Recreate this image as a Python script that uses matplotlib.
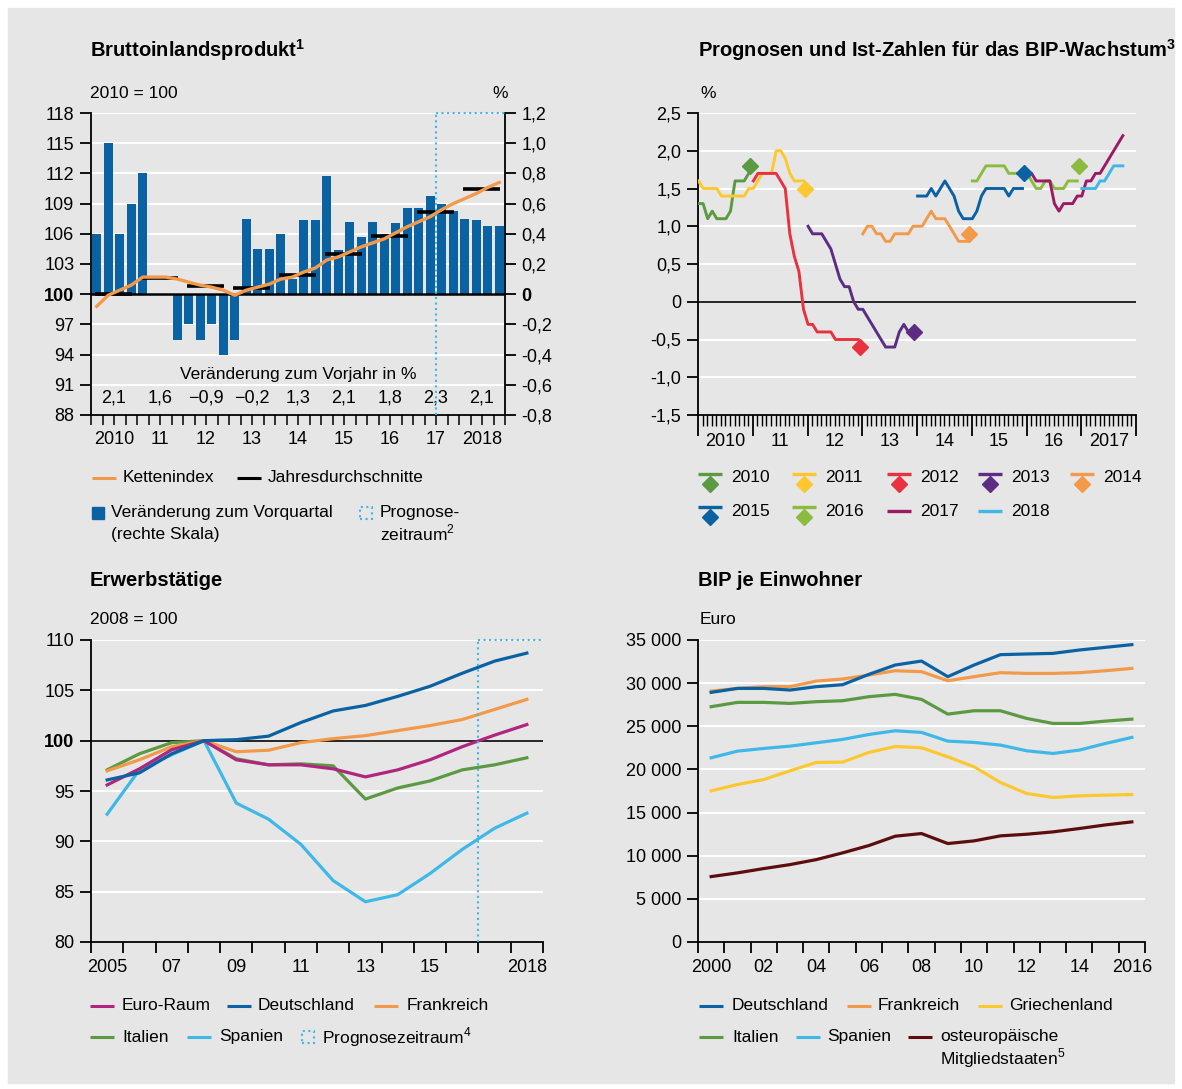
import matplotlib
matplotlib.use('Agg')
import matplotlib.pyplot as plt
import matplotlib.transforms as mtransforms
from matplotlib.lines import Line2D
from matplotlib.patches import Rectangle

W, H = 1182, 1089
BG = '#e6e6e6'
plt.rcParams['font.family'] = ['Liberation Sans', 'DejaVu Sans']
plt.rcParams['font.size'] = 12
plt.rcParams['mathtext.fontset'] = 'custom'
plt.rcParams['mathtext.rm'] = 'Liberation Sans'
plt.rcParams['mathtext.bf'] = 'Liberation Sans:bold'
FS = 12.5        # body text
TFS = 14.5       # titles

BLUE = '#0b62a3'
ORANGE = '#f39a4a'
GREEN = '#5b9a42'
LGREEN = '#8bbb3f'
YELLOW = '#fdc82f'
RED = '#e8323f'
PURPLE = '#5c2d82'
MAGENTA = '#9b1b63'
LBLUE = '#3fb8e8'
EURO = '#b0267e'
BROWN = '#5c0e0e'

# ---- Bruttoinlandsprodukt (quarterly 2010Q1..2018Q4)
gdp_qoq = [0.4, 1.0, 0.4, 0.6,
           0.8, 0.0, 0.0, -0.3,
           -0.2, -0.3, -0.2, -0.4,
           -0.3, 0.5, 0.3, 0.3,
           0.4, 0.1, 0.49, 0.49,
           0.78, 0.29, 0.48, 0.38,
           0.48, 0.4, 0.47, 0.57,
           0.57, 0.65, 0.6, 0.55,
           0.5, 0.49, 0.45, 0.45]
gdp_index = [98.8, 99.9, 100.4, 100.9, 101.7, 101.7, 101.7, 101.5,
             101.2, 100.9, 100.7, 100.4, 99.9, 100.4, 100.7, 101.0,
             101.5, 101.7, 102.2, 102.6, 103.4, 103.7, 104.2, 104.7,
             105.1, 105.5, 106.1, 106.7, 107.2, 107.7, 108.4, 109.0,
             109.5, 110.0, 110.6, 111.1]
gdp_annual_avg = [100.0, 101.65, 100.8, 100.6, 101.9, 104.0, 105.8, 108.2, 110.5]
gdp_annual_growth = ['2,1', '1,6', '\u22120,9', '\u22120,2', '1,3', '2,1', '1,8', '2,3', '2,1']
gdp_year_labels = ['2010', '11', '12', '13', '14', '15', '16', '17', '2018']

# ---- Prognosen (monthly, month index 0 = Jan 2010)
fc_2010_start, fc_2010 = 0, [1.3, 1.3, 1.1, 1.2, 1.1, 1.1, 1.1, 1.2, 1.6, 1.6, 1.6, 1.7]
fc_2011_start, fc_2011 = 0, [1.6, 1.5, 1.5, 1.5, 1.5, 1.4, 1.4, 1.4, 1.4, 1.4, 1.4, 1.5,
                             1.5, 1.6, 1.7, 1.7, 1.7, 2.0, 2.0, 1.9, 1.7, 1.6, 1.6, 1.6]
fc_2012_start, fc_2012 = 12, [1.6, 1.7, 1.7, 1.7, 1.7, 1.7, 1.6, 1.5, 0.9, 0.6, 0.4, -0.1,
                              -0.3, -0.3, -0.4, -0.4, -0.4, -0.4, -0.5, -0.5, -0.5, -0.5, -0.5, -0.5]
fc_2013_start, fc_2013 = 24, [1.0, 0.9, 0.9, 0.9, 0.8, 0.7, 0.5, 0.3, 0.2, 0.2, 0.0, -0.1,
                              -0.1, -0.2, -0.3, -0.4, -0.5, -0.6, -0.6, -0.6, -0.4, -0.3, -0.4, -0.4]
fc_2014_start, fc_2014 = 36, [0.9, 1.0, 1.0, 0.9, 0.9, 0.8, 0.8, 0.9, 0.9, 0.9, 0.9, 1.0,
                              1.0, 1.0, 1.1, 1.2, 1.1, 1.1, 1.1, 1.0, 0.9, 0.8, 0.8, 0.8]
fc_2015_start, fc_2015 = 48, [1.4, 1.4, 1.4, 1.5, 1.4, 1.5, 1.6, 1.5, 1.4, 1.2, 1.1, 1.1,
                              1.1, 1.2, 1.4, 1.5, 1.5, 1.5, 1.5, 1.5, 1.4, 1.5, 1.5, 1.5]
fc_2016_start, fc_2016 = 60, [1.6, 1.6, 1.7, 1.8, 1.8, 1.8, 1.8, 1.8, 1.7, 1.7, 1.7, 1.7,
                              1.7, 1.6, 1.5, 1.5, 1.6, 1.6, 1.5, 1.5, 1.5, 1.6, 1.6, 1.6]
fc_2017_start, fc_2017 = 72, [1.7, 1.7, 1.6, 1.6, 1.6, 1.6, 1.3, 1.2, 1.3, 1.3, 1.3, 1.4,
                              1.4, 1.6, 1.6, 1.7, 1.7, 1.8, 1.9, 2.0, 2.1, 2.2]
fc_2018_start, fc_2018 = 84, [1.5, 1.5, 1.5, 1.5, 1.6, 1.6, 1.7, 1.8, 1.8, 1.8]
actual_years = [2010, 2011, 2012, 2013, 2014, 2015, 2016]
actual_growth = [1.8, 1.5, -0.6, -0.4, 0.9, 1.7, 1.8]
fc_year_labels = ['2010', '11', '12', '13', '14', '15', '16', '2017']

# ---- Erwerbstaetige (2008 = 100)
emp_years = list(range(2005, 2019))
emp_euro = [95.6, 97.2, 99.1, 100.0, 98.1, 97.6, 97.6, 97.2, 96.4, 97.1, 98.1, 99.4, 100.55, 101.6]
emp_de = [96.1, 96.8, 98.7, 100.0, 100.1, 100.45, 101.8, 102.95, 103.5, 104.4, 105.4, 106.7, 107.9, 108.7]
emp_fr = [97.0, 98.1, 99.4, 100.0, 98.9, 99.05, 99.8, 100.2, 100.5, 101.0, 101.5, 102.1, 103.1, 104.1]
emp_it = [97.1, 98.7, 99.8, 100.0, 98.2, 97.6, 97.7, 97.5, 94.2, 95.3, 96.0, 97.1, 97.6, 98.3]
emp_es = [92.7, 97.1, 98.6, 100.0, 93.8, 92.2, 89.7, 86.1, 84.0, 84.7, 86.8, 89.2, 91.3, 92.8]
emp_xlabels = {2005: '2005', 2007: '07', 2009: '09', 2011: '11', 2013: '13', 2015: '15', 2018: '2018'}

# ---- BIP je Einwohner (Euro)
pc_years = list(range(2000, 2017))
pc_de = [28930, 29390, 29390, 29200, 29590, 29820, 31020, 32100, 32560, 30750,
         32100, 33300, 33380, 33450, 33840, 34150, 34460]
pc_fr = [29080, 29390, 29590, 29590, 30240, 30480, 30940, 31440, 31330, 30280,
         30750, 31210, 31130, 31130, 31210, 31440, 31710]
pc_gr = [17520, 18250, 18830, 19840, 20810, 20850, 21970, 22660, 22510, 21460,
         20300, 18490, 17210, 16750, 16940, 17020, 17090]
pc_it = [27270, 27770, 27770, 27650, 27850, 27960, 28430, 28700, 28120, 26410,
         26800, 26800, 25910, 25330, 25330, 25600, 25830]
pc_es = [21350, 22120, 22430, 22700, 23090, 23480, 24050, 24480, 24290, 23280,
         23130, 22820, 22160, 21850, 22240, 23010, 23710]
pc_ost = [7580, 8010, 8510, 8970, 9550, 10330, 11180, 12260, 12570, 11410,
          11720, 12300, 12490, 12760, 13150, 13570, 13920]
pc_xlabels = {2000: '2000', 2002: '02', 2004: '04', 2006: '06', 2008: '08',
              2010: '10', 2012: '12', 2014: '14', 2016: '2016'}


def fx(x):
    return x / W


def fy(y):
    return 1 - y / H


def make_axes(l, t, r, b):
    ax = fig.add_axes([fx(l), fy(b), (r - l) / W, (b - t) / H])
    ax.set_facecolor(BG)
    for s in ['top', 'right']:
        ax.spines[s].set_visible(False)
    ax.yaxis.grid(True, color='white', lw=1.5)
    ax.set_axisbelow(True)
    return ax


def below_labels(ax, xs, labels, dy=24):
    tr = mtransforms.offset_copy(ax.get_xaxis_transform(), fig=fig, y=-dy, units='dots')
    for x, s in zip(xs, labels):
        ax.text(x, 0, s, transform=tr, ha='center', va='center', fontsize=FS + 0.5)


def leg_line(x, y, color, lw=2.2):
    fig.add_artist(Line2D([fx(x), fx(x + 24)], [fy(y), fy(y)], color=color, lw=lw,
                          transform=fig.transFigure, solid_capstyle='butt'))


def leg_text(x, y, s):
    fig.text(fx(x), fy(y), s, ha='left', va='center', fontsize=FS)


def leg_box(x, y):
    fig.add_artist(Rectangle((fx(x), fy(y + 6)), 12 / W, 12 / H, fill=False, ec=LBLUE,
                             ls=':', lw=1.5, transform=fig.transFigure))


fig = plt.figure(figsize=(W / 100, H / 100), dpi=100)
fig.patch.set_facecolor('white')
fig.add_artist(Rectangle((fx(8), fy(1083)), 1166 / W, 1075 / H, color=BG,
                         transform=fig.transFigure, zorder=-10))

# ================= Panel 1 =================
ax1b = make_axes(91, 113, 505, 415)
ax1 = ax1b.twinx()
ax1.set_zorder(ax1b.get_zorder() + 1)
ax1.patch.set_visible(False)
# ax1b: right scale (bars), ax1: left scale (index)
ax1b.yaxis.tick_right()
ax1.yaxis.tick_left()
ax1b.spines['right'].set_visible(True)
ax1b.spines['left'].set_visible(False)
ax1.spines['left'].set_visible(True)
ax1.spines['right'].set_visible(False)
ax1.spines['top'].set_visible(False)
ax1.spines['bottom'].set_visible(False)

q = [i + 0.5 for i in range(len(gdp_qoq))]
ax1b.bar(q, gdp_qoq, width=0.78, color=BLUE, zorder=2)
ax1b.set_ylim(-0.8, 1.2)
rticks = [1.2, 1.0, 0.8, 0.6, 0.4, 0.2, 0, -0.2, -0.4, -0.6, -0.8]
rlabels = ['0' if v == 0 else ('%.1f' % v).replace('.', ',') for v in rticks]
ax1b.set_yticks(rticks, rlabels)
ax1b.set_xlim(0, 36)

ax1.set_ylim(88, 118)
lticks = list(range(88, 119, 3))
ax1.set_yticks(lticks, [str(v) for v in lticks])
for lab in ax1.get_yticklabels():
    if lab.get_text() == '100':
        lab.set_fontweight('bold')
for lab in ax1b.get_yticklabels():
    if lab.get_text() == '0':
        lab.set_fontweight('bold')
ax1.axhline(100, color='black', lw=1.8, zorder=3)
ax1.plot(q, gdp_index, color=ORANGE, lw=2.4, zorder=5)
for i, v in enumerate(gdp_annual_avg):
    ax1.plot([4 * i + 0.35, 4 * i + 3.6], [v, v], color='black', lw=2.6, zorder=4,
             solid_capstyle='butt')
ax1.set_xlim(0, 36)
for a in (ax1, ax1b):
    a.tick_params(axis='y', length=8, width=1.3, labelsize=FS + 0.5, pad=4)
ax1b.set_xticks(range(0, 37, 4), [''] * 10)
ax1b.set_xticks(range(0, 37), minor=True)
ax1b.tick_params(axis='x', which='major', length=15, width=1.3)
ax1b.tick_params(axis='x', which='minor', length=7, width=1.1)
ax1.set_xticks([])
ax1b.spines['bottom'].set_linewidth(1.3)
ax1b.spines['right'].set_linewidth(1.3)
ax1.spines['left'].set_linewidth(1.3)
below_labels(ax1b, [4 * i + 2 for i in range(9)], gdp_year_labels, dy=25)
ax1.text(18, 92.0, 'Veränderung zum Vorjahr in %', ha='center', va='center', fontsize=FS)
for i, s in enumerate(gdp_annual_growth):
    ax1.text(4 * i + 2, 89.7, s, ha='center', va='center', fontsize=FS + 0.5)
ax1.plot([30, 30], [88, 118], color=LBLUE, ls=':', lw=1.5, zorder=6, clip_on=False)
ax1.plot([30, 36], [118, 118], color=LBLUE, ls=':', lw=1.5, zorder=6, clip_on=False)

fig.text(fx(90), fy(50), r'Bruttoinlandsprodukt$^{\mathbf{1}}$', fontsize=TFS, fontweight='bold',
         ha='left', va='center')
fig.text(fx(90), fy(94), '2010 = 100', fontsize=FS, ha='left', va='center')
fig.text(fx(500), fy(93), '%', fontsize=FS, ha='center', va='center')

leg_line(92, 478, ORANGE)
leg_text(123, 478, 'Kettenindex')
leg_line(237, 478, 'black')
leg_text(268, 478, 'Jahresdurchschnitte')
fig.add_artist(Rectangle((fx(92), fy(519)), 12 / W, 12 / H, color=BLUE, transform=fig.transFigure))
leg_text(111, 513, 'Veränderung zum Vorquartal')
leg_text(111, 534, '(rechte Skala)')
leg_box(360, 513)
leg_text(380, 513, 'Prognose-')
leg_text(380, 533, r'zeitraum$^{2}$')

# ================= Panel 2 =================
ax2 = make_axes(698, 113, 1136, 415)
series = [(fc_2010_start, fc_2010, GREEN), (fc_2011_start, fc_2011, YELLOW),
          (fc_2012_start, fc_2012, RED), (fc_2013_start, fc_2013, PURPLE),
          (fc_2014_start, fc_2014, ORANGE), (fc_2015_start, fc_2015, BLUE),
          (fc_2016_start, fc_2016, LGREEN), (fc_2017_start, fc_2017, MAGENTA),
          (fc_2018_start, fc_2018, LBLUE)]
for start, vals, col in series:
    xs = [2010 + (start + k) / 12 + 0.01 for k in range(len(vals))]
    ax2.plot(xs, vals, color=col, lw=2.1, zorder=3)
for yr, v, col in zip(actual_years, actual_growth, [s[2] for s in series]):
    ax2.plot(yr + 0.95, v, marker='D', ms=8.5, color=col, zorder=4, ls='none')
ax2.axhline(0, color='black', lw=1.2, zorder=2)
ax2.set_xlim(2010, 2018)
ax2.set_ylim(-1.5, 2.5)
yt2 = [2.5, 2.0, 1.5, 1.0, 0.5, 0, -0.5, -1.0, -1.5]
ax2.set_yticks(yt2, ['0' if v == 0 else ('%.1f' % v).replace('.', ',') for v in yt2])
ax2.tick_params(axis='y', length=8, width=1.3, labelsize=FS + 0.5, pad=4)
ax2.set_xticks(range(2010, 2019), [''] * 9)
ax2.set_xticks([2010 + m / 12 for m in range(97)], minor=True)
ax2.tick_params(axis='x', which='major', length=15, width=1.3)
ax2.tick_params(axis='x', which='minor', length=8, width=1.0)
ax2.spines['left'].set_linewidth(1.3)
ax2.spines['bottom'].set_linewidth(1.3)
below_labels(ax2, [y + 0.5 for y in range(2010, 2018)], fc_year_labels, dy=26)

fig.text(fx(1176), fy(50), r'Prognosen und Ist-Zahlen für das BIP-Wachstum$^{\mathbf{3}}$', fontsize=TFS,
         fontweight='bold', ha='right', va='center')
fig.text(fx(700), fy(93), '%', fontsize=FS, ha='left', va='center')

leg_items = [(698, 478, GREEN, '2010', True), (792, 478, YELLOW, '2011', True),
             (887, 478, RED, '2012', True), (978, 478, PURPLE, '2013', True),
             (1070, 478, ORANGE, '2014', True), (698, 511, BLUE, '2015', True),
             (792, 511, LGREEN, '2016', True), (887, 511, MAGENTA, '2017', False),
             (978, 511, LBLUE, '2018', False)]
for x, y, col, s, dia in leg_items:
    ly = y - 4 if dia else y
    leg_line(x, ly, col, lw=2.4)
    if dia:
        fig.add_artist(Line2D([fx(x + 12)], [fy(y + 6)], marker='D', ms=8, color=col,
                              transform=fig.transFigure))
    leg_text(x + 33, y, s)

# ================= Panel 3 =================
ax3 = make_axes(91, 640, 543, 942)
for vals, col in [(emp_it, GREEN), (emp_es, LBLUE), (emp_fr, ORANGE), (emp_euro, EURO), (emp_de, BLUE)]:
    ax3.plot(emp_years, vals, color=col, lw=2.3, zorder=3)
ax3.axhline(100, color='black', lw=1.2, zorder=2)
ax3.set_xlim(2004.5, 2018.5)
ax3.set_ylim(80, 110)
yt3 = list(range(80, 111, 5))
ax3.set_yticks(yt3, [str(v) for v in yt3])
for lab in ax3.get_yticklabels():
    if lab.get_text() == '100':
        lab.set_fontweight('bold')
ax3.tick_params(axis='y', length=8, width=1.3, labelsize=FS + 0.5, pad=4)
ax3.set_xticks([y + 0.5 for y in range(2004, 2019)], [''] * 15)
ax3.tick_params(axis='x', length=8, width=1.3)
ax3.spines['left'].set_linewidth(1.3)
ax3.spines['bottom'].set_linewidth(1.3)
below_labels(ax3, list(emp_xlabels.keys()), list(emp_xlabels.values()), dy=26)
ax3.plot([2016.5, 2016.5], [80, 110], color=LBLUE, ls=':', lw=1.5, zorder=6, clip_on=False)
ax3.plot([2016.5, 2018.5], [110, 110], color=LBLUE, ls=':', lw=1.5, zorder=6, clip_on=False)

fig.text(fx(90), fy(580), 'Erwerbstätige', fontsize=TFS, fontweight='bold', ha='left', va='center')
fig.text(fx(90), fy(619), '2008 = 100', fontsize=FS, ha='left', va='center')

leg_line(90, 1006, EURO)
leg_text(122, 1006, 'Euro-Raum')
leg_line(227, 1006, BLUE)
leg_text(258, 1006, 'Deutschland')
leg_line(374, 1006, ORANGE)
leg_text(407, 1006, 'Frankreich')
leg_line(90, 1037, GREEN)
leg_text(122, 1037, 'Italien')
leg_line(187, 1037, LBLUE)
leg_text(219, 1037, 'Spanien')
leg_box(302, 1037)
leg_text(322, 1037, r'Prognosezeitraum$^{4}$')

# ================= Panel 4 =================
ax4 = make_axes(698, 640, 1145, 942)
for vals, col in [(pc_ost, BROWN), (pc_gr, YELLOW), (pc_es, LBLUE), (pc_it, GREEN), (pc_fr, ORANGE), (pc_de, BLUE)]:
    ax4.plot(pc_years, vals, color=col, lw=2.3, zorder=3)
ax4.set_xlim(1999.5, 2016.5)
ax4.set_ylim(0, 35000)
yt4 = list(range(0, 35001, 5000))
ax4.set_yticks(yt4, ['{:,}'.format(v).replace(',', ' ') for v in yt4])
ax4.tick_params(axis='y', length=8, width=1.3, labelsize=FS + 0.5, pad=4)
ax4.set_xticks([y + 0.5 for y in range(1999, 2017)], [''] * 18)
ax4.tick_params(axis='x', length=8, width=1.3)
ax4.spines['left'].set_linewidth(1.3)
ax4.spines['bottom'].set_linewidth(1.3)
below_labels(ax4, list(pc_xlabels.keys()), list(pc_xlabels.values()), dy=26)

fig.text(fx(698), fy(580), 'BIP je Einwohner', fontsize=TFS, fontweight='bold', ha='left', va='center')
fig.text(fx(700), fy(619), 'Euro', fontsize=FS, ha='left', va='center')

leg_line(699, 1006, BLUE)
leg_text(732, 1006, 'Deutschland')
leg_line(847, 1006, ORANGE)
leg_text(878, 1006, 'Frankreich')
leg_line(978, 1006, YELLOW)
leg_text(1009, 1006, 'Griechenland')
leg_line(699, 1037, GREEN)
leg_text(732, 1037, 'Italien')
leg_line(796, 1037, LBLUE)
leg_text(827, 1037, 'Spanien')
leg_line(908, 1037, BROWN)
leg_text(940, 1037, 'osteuropäische')
leg_text(940, 1058, r'Mitgliedstaaten$^{5}$')

fig.savefig('out.png', dpi=100, facecolor=fig.get_facecolor())
